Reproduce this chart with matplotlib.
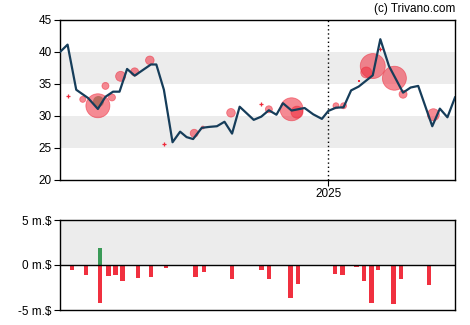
import matplotlib
matplotlib.use("Agg")
import matplotlib.pyplot as plt
import matplotlib.dates as mdates
import pandas as pd

plt.rcParams['font.family'] = ['Liberation Sans', 'DejaVu Sans']

# ===== DATA =====
price_dates = [
    "2024-04-28", "2024-05-05", "2024-05-13", "2024-05-24", "2024-06-02", "2024-06-09",
    "2024-06-16", "2024-06-22", "2024-06-29", "2024-07-06", "2024-07-21", "2024-07-26",
    "2024-08-02", "2024-08-10", "2024-08-17", "2024-08-23", "2024-08-29", "2024-09-06",
    "2024-09-13", "2024-09-20", "2024-09-27", "2024-10-04", "2024-10-11", "2024-10-24",
    "2024-10-31", "2024-11-07", "2024-11-14", "2024-11-20", "2024-11-28", "2024-12-10",
    "2024-12-18", "2024-12-26", "2025-01-01", "2025-01-08", "2025-01-15", "2025-01-22",
    "2025-01-29", "2025-02-11", "2025-02-18", "2025-02-26", "2025-03-11", "2025-03-18",
    "2025-03-25", "2025-04-07", "2025-04-14", "2025-04-21", "2025-04-28",
]
price = [
    40.0, 41.15, 34.1, 32.8, 31.1, 33.0,
    33.8, 33.8, 37.35, 36.3, 38.05, 38.05,
    34.1, 25.9, 27.55, 26.7, 26.4, 28.15,
    28.3, 28.4, 29.1, 27.25, 31.45, 29.4,
    29.9, 30.9, 30.2, 32.0, 30.85, 31.25,
    30.26, 29.55, 30.8, 31.3, 31.36, 34.0,
    34.6, 36.35, 42.0, 37.8, 33.65, 34.45,
    34.7, 28.4, 31.15, 29.8, 32.9,
]

# insider sales (bubbles): date, price, radius in px
sell_dates = [
    "2024-05-19", "2024-06-02", "2024-06-09", "2024-06-15", "2024-06-23", "2024-07-06",
    "2024-07-20", "2024-08-30", "2024-09-07", "2024-10-03", "2024-11-07", "2024-11-28",
    "2024-12-03", "2025-01-08", "2025-01-15", "2025-02-05", "2025-02-11", "2025-03-03",
    "2025-03-11", "2025-04-08",
]
sell_price = [
    32.6, 31.6, 34.7, 32.9, 36.2, 36.9,
    38.7, 27.3, 28.2, 30.5, 31.05, 31.05,
    30.6, 31.6, 31.6, 36.8, 37.8, 35.9,
    33.4, 30.2,
]
sell_radius = [
    3, 12, 3.5, 3.5, 5, 4,
    4.3, 4, 1.5, 4.3, 3.5, 11.5,
    6, 3, 3, 5.5, 12.5, 12,
    4, 6,
]
# tiny sales drawn as small crosses / dots
tiny_dates = ["2024-05-05", "2024-08-02", "2024-10-31", "2025-02-18"]
tiny_price = [33.2, 25.6, 31.8, 40.5]
dot_dates = ["2025-01-29"]
dot_price = [35.4]

# insider purchase
buy_dates = ["2024-06-02"]
buy_price = [32.4]
buy_radius = [5.5]

# weekly net insider flow (millions $)
flow_dates = [
    "2024-05-09", "2024-05-22", "2024-06-04", "2024-06-12", "2024-06-18", "2024-06-25",
    "2024-07-09", "2024-07-21", "2024-08-04", "2024-08-31", "2024-09-08", "2024-10-04",
    "2024-10-31", "2024-11-07", "2024-11-27", "2024-12-04", "2025-01-07", "2025-01-14",
    "2025-01-27", "2025-02-03", "2025-02-10", "2025-02-16", "2025-03-02", "2025-03-09",
    "2025-04-04",
]
flow_sell = [
    -0.6, -1.15, -4.27, -1.26, -1.15, -1.8,
    -1.48, -1.37, -0.37, -1.37, -0.82, -1.6,
    -0.6, -1.6, -3.7, -2.15, -1.04, -1.15,
    -0.26, -1.82, -4.27, -0.6, -4.37, -1.6,
    -2.26,
]
flow_buy_dates = ["2024-06-04"]
flow_buy = [1.9]

x_start, x_end = "2024-04-28", "2025-04-28"
# ===== END DATA =====

RED = '#ee2a3b'
GREEN = '#3a9a57'
LINE = '#163d5a'
BAND = '#ececec'

def r2s(r):
    # pixel radius -> scatter area (pt^2) at dpi 100
    return (2 * r * 0.72) ** 2

fig = plt.figure(figsize=(4.7, 3.25), dpi=100)
ax = fig.add_axes([60 / 470, 1 - 180 / 325, 395 / 470, 160 / 325])
ax2 = fig.add_axes([60 / 470, 1 - 310 / 325, 395 / 470, 90 / 325])

pd_dates = pd.to_datetime(price_dates)
ax.axhspan(25, 30, color=BAND, zorder=0, lw=0)
ax.axhspan(35, 40, color=BAND, zorder=0, lw=0)
ax.axvline(pd.Timestamp("2025-01-01"), color='black', ls=(0, (1, 2)), lw=1, zorder=1)

ax.scatter(pd.to_datetime(buy_dates), buy_price, s=[r2s(r) for r in buy_radius],
           color=GREEN, alpha=0.7, lw=0, zorder=2)
ax.scatter(pd.to_datetime(sell_dates), sell_price, s=[r2s(r) for r in sell_radius],
           color=RED, alpha=0.55, edgecolors=RED, linewidths=0.6, zorder=3)
ax.scatter(pd.to_datetime(tiny_dates), tiny_price, s=6, marker='+', color=RED,
           lw=0.9, zorder=3)
ax.scatter(pd.to_datetime(dot_dates), dot_price, s=1.5, marker='s', color=RED,
           lw=0, zorder=3)
ax.plot(pd_dates, price, color=LINE, lw=1.6, zorder=4)

ax.set_xlim(pd.Timestamp(x_start), pd.Timestamp(x_end))
ax.set_ylim(20, 45)
ax.set_yticks([20, 25, 30, 35, 40, 45])
ax.set_xticks([pd.Timestamp("2025-01-01")])
ax.xaxis.set_major_formatter(mdates.DateFormatter('%Y'))
ax.tick_params(labelsize=8.5, length=4, width=0.8, pad=2)
for sp in ax.spines.values():
    sp.set_linewidth(1)

fig.text(455 / 470, 1 - 9 / 325, "(c) Trivano.com", ha='right', va='center', fontsize=8.5)

# bottom panel
ax2.axhspan(0, 5, color=BAND, zorder=0, lw=0)
ax2.axhline(0, color='black', lw=1, zorder=3)
ax2.bar(pd.to_datetime(flow_dates), flow_sell, width=4.3, color='#f0303f', zorder=2)
ax2.bar(pd.to_datetime(flow_buy_dates), flow_buy, width=4.3, color=GREEN, zorder=2)
ax2.set_xlim(pd.Timestamp(x_start), pd.Timestamp(x_end))
ax2.set_ylim(-5, 5)
ax2.set_yticks([-5, 0, 5])
ax2.set_yticklabels(["-5 m.$", "0 m.$", "5 m.$"])
ax2.set_xticks([])
ax2.tick_params(labelsize=8.5, length=4, width=0.8, pad=2)
for sp in ax2.spines.values():
    sp.set_linewidth(1)

fig.savefig("out.png", dpi=100)
